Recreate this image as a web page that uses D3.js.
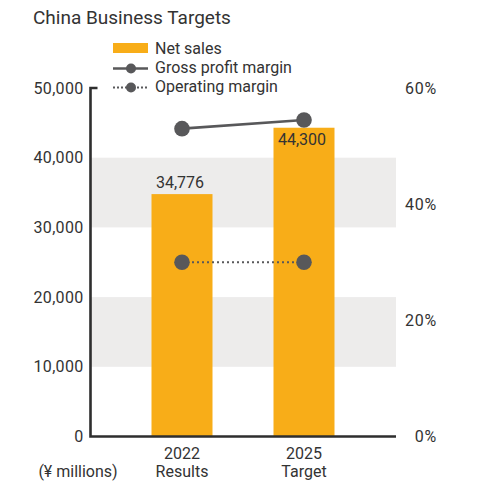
<!DOCTYPE html>
<html>
<head>
<meta charset="utf-8">
<script src="https://cdn.jsdelivr.net/npm/d3@7"></script>
<style>
  html, body { margin: 0; padding: 0; background: #fff; }
  svg { display: block; font-family: Roboto, "Noto Sans", sans-serif; }
</style>
</head>
<body>
<svg id="chart" width="485" height="484"></svg>
<script>
// ---- data ----
const categories = ["2022", "2025"];
const categorySub = ["Results", "Target"];
const netSales = [34776, 44300];
const grossMargin = [53, 54.5];
const operatingMargin = [30, 30];
const leftTicks = [0, 10000, 20000, 30000, 40000, 50000];
const rightTicks = [0, 20, 40, 60];
const bandRanges = [[10000, 20000], [30000, 40000]];
const legendLabels = ["Net sales", "Gross profit margin", "Operating margin"];
const titleText = "China Business Targets";
const unitText = "(¥ millions)";

// ---- styles ----
const barColor = "#f8ad18";
const lineColor = "#58585a";
const textColor = "#333333";
const bandColor = "#edeceb";

const svg = d3.select("#chart");

const x = d3.scaleBand().domain(categories).range([121, 365]).paddingInner(0.5).paddingOuter(0.25);
const yL = d3.scaleLinear().domain([0, 50000]).range([436.5, 88]);
const yR = d3.scaleLinear().domain([0, 60]).range([436.5, 88]);

const axisLeftX = 90.5, axisRightEnd = 396;

// title
svg.append("text").attr("x", 33).attr("y", 24).attr("font-size", 19)
  .attr("fill", textColor).text(titleText);

// bands
svg.selectAll("rect.band").data(bandRanges).join("rect")
  .attr("class", "band")
  .attr("x", axisLeftX).attr("width", axisRightEnd - axisLeftX)
  .attr("y", d => yL(d[1])).attr("height", d => yL(d[0]) - yL(d[1]))
  .attr("fill", bandColor);

// bars
svg.selectAll("rect.bar").data(netSales).join("rect")
  .attr("class", "bar")
  .attr("x", (d, i) => x(categories[i]))
  .attr("width", x.bandwidth())
  .attr("y", d => yL(d))
  .attr("height", d => yL(0) - yL(d))
  .attr("fill", barColor);

// value labels
svg.selectAll("text.val").data(netSales).join("text")
  .attr("class", "val")
  .attr("x", (d, i) => x(categories[i]) + x.bandwidth() / 2 - 2)
  .attr("y", (d, i) => i === 0 ? yL(d) - 6 : yL(d) + 17.5)
  .attr("text-anchor", "middle").attr("font-size", 16).attr("fill", textColor)
  .text(d => d3.format(",")(d));

// axes lines (custom)
const tickLeft = d3.axisLeft(yL).tickValues(leftTicks).tickSize(0).tickPadding(7).tickFormat(d3.format(","));
const gL = svg.append("g").attr("transform", `translate(${axisLeftX},0)`).call(tickLeft);
gL.select(".domain").remove();
gL.selectAll("text").attr("font-size", 16).attr("fill", textColor)
  .attr("font-family", "Roboto, sans-serif").attr("letter-spacing", 0.3);

const tickRight = d3.axisRight(yR).tickValues(rightTicks).tickSize(0).tickFormat(d => d + "%");
const gR = svg.append("g").attr("transform", `translate(437,0)`).call(tickRight);
gR.select(".domain").remove();
gR.selectAll("text").attr("font-size", 16).attr("fill", textColor)
  .attr("font-family", "Roboto, sans-serif").attr("text-anchor", "end").attr("x", 0).attr("letter-spacing", 0.8);

svg.append("path")
  .attr("d", `M${axisLeftX + 7},${yL(50000)}H${axisLeftX}V${yL(0)}H${axisRightEnd}`)
  .attr("fill", "none").attr("stroke", "#2e2e2e").attr("stroke-width", 2.6);

// category labels
const gx = svg.append("g");
gx.selectAll("text.cat").data(categories).join("text")
  .attr("class", "cat")
  .attr("x", d => x(d) + x.bandwidth() / 2)
  .attr("y", 459)
  .attr("text-anchor", "middle").attr("font-size", 16).attr("fill", textColor)
  .text(d => d);
gx.selectAll("text.sub").data(categorySub).join("text")
  .attr("class", "sub")
  .attr("x", (d, i) => x(categories[i]) + x.bandwidth() / 2)
  .attr("y", 477)
  .attr("text-anchor", "middle").attr("font-size", 16).attr("fill", textColor)
  .text(d => d);
svg.append("text").attr("x", 78).attr("y", 477).attr("text-anchor", "middle")
  .attr("font-size", 16).attr("fill", textColor).text(unitText);

// lines
const cx = (d, i) => x(categories[i]) + x.bandwidth() / 2;
const line = d3.line().x((d, i) => cx(d, i)).y(d => yR(d));

svg.append("path").datum(operatingMargin).attr("d", line)
  .attr("fill", "none").attr("stroke", lineColor).attr("stroke-width", 2)
  .attr("stroke-dasharray", "2,3");
svg.selectAll("circle.op").data(operatingMargin).join("circle")
  .attr("class", "op").attr("cx", cx).attr("cy", d => yR(d)).attr("r", 7.8).attr("fill", lineColor);

svg.append("path").datum(grossMargin).attr("d", line)
  .attr("fill", "none").attr("stroke", lineColor).attr("stroke-width", 2.6);
svg.selectAll("circle.gp").data(grossMargin).join("circle")
  .attr("class", "gp").attr("cx", cx).attr("cy", d => yR(d)).attr("r", 7.8).attr("fill", lineColor);

// legend
const lg = svg.append("g");
lg.append("rect").attr("x", 113).attr("y", 43).attr("width", 35).attr("height", 10).attr("fill", barColor);
lg.append("line").attr("x1", 113).attr("x2", 148).attr("y1", 68.5).attr("y2", 68.5)
  .attr("stroke", lineColor).attr("stroke-width", 2.6);
lg.append("circle").attr("cx", 131).attr("cy", 68.5).attr("r", 5).attr("fill", lineColor);
lg.append("line").attr("x1", 113).attr("x2", 149).attr("y1", 87.5).attr("y2", 87.5)
  .attr("stroke", lineColor).attr("stroke-width", 2).attr("stroke-dasharray", "2,2");
lg.append("circle").attr("cx", 131).attr("cy", 87.5).attr("r", 5).attr("fill", lineColor);
lg.selectAll("text").data(legendLabels).join("text")
  .attr("x", 155).attr("y", (d, i) => 54 + i * 19)
  .attr("font-size", 16).attr("fill", textColor).text(d => d);
</script>
</body>
</html>
